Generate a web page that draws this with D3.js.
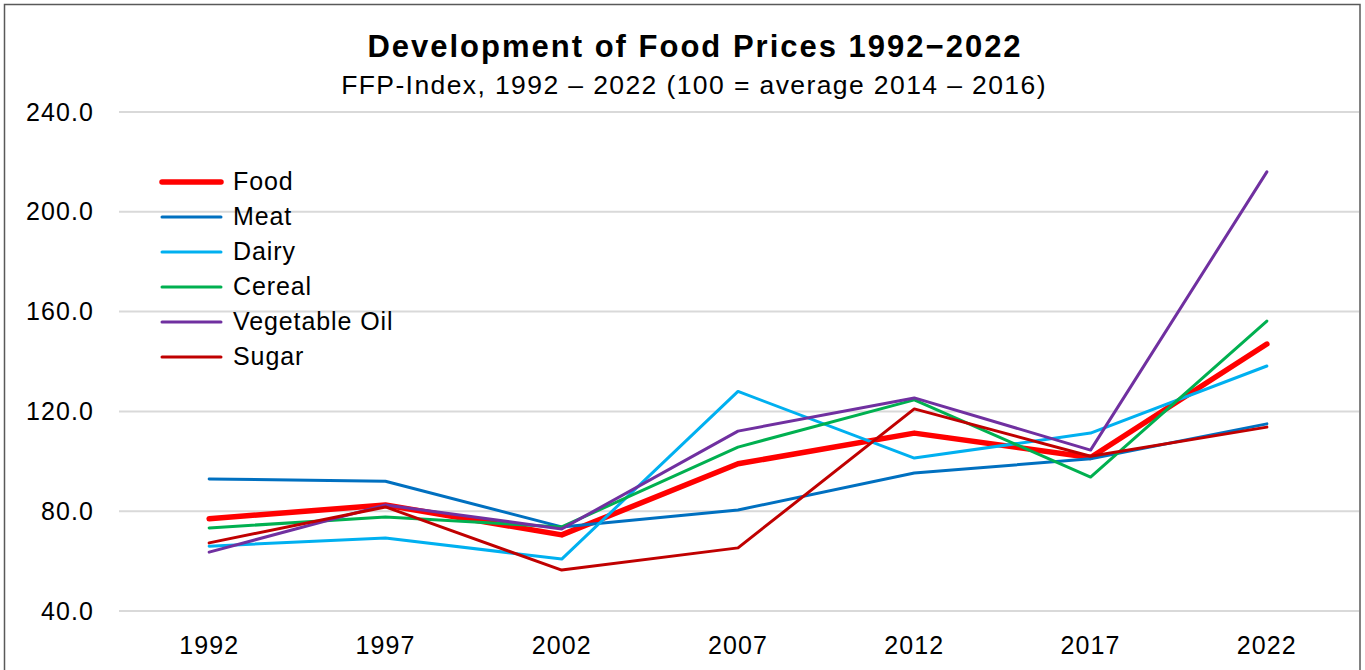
<!DOCTYPE html>
<html>
<head>
<meta charset="UTF-8">
<title>Development of Food Prices 1992-2022</title>
<style>
  html, body { margin: 0; padding: 0; background: #fff; }
  svg { display: block; font-family: "Liberation Sans", Arial, sans-serif; }
</style>
</head>
<body>
<div id="chart"></div>
<script src="https://cdn.jsdelivr.net/npm/d3@7"></script>
<script>
// data
var years = ["1992", "1997", "2002", "2007", "2012", "2017", "2022"];
var yTicks = [40, 80, 120, 160, 200, 240];
var food      = [77.0, 82.5, 70.5, 99.0, 111.3, 101.5, 147.0];
var meat      = [92.9, 92.0, 73.7, 80.5, 95.3, 101.0, 115.0];
var dairy     = [66.0, 69.3, 60.8, 128.0, 101.3, 111.3, 138.2];
var cereal    = [73.3, 77.7, 73.7, 105.7, 124.6, 93.7, 156.2];
var vegOil    = [63.6, 82.5, 72.9, 112.1, 125.4, 104.5, 216.0];
var sugar     = [67.3, 81.7, 56.4, 65.3, 121.0, 102.0, 113.7];
var seriesNames = ["Food", "Meat", "Dairy", "Cereal", "Vegetable Oil", "Sugar"];
var seriesValues = [food, meat, dairy, cereal, vegOil, sugar];

var colors = ["#ff0000", "#0070c0", "#00b0f0", "#00b050", "#7030a0", "#c00000"];
var widths = [5.5, 3, 3, 3, 3, 3];

var width = 1365, height = 670;

var svg = d3.select("#chart").append("svg")
  .attr("width", width)
  .attr("height", height);

// outer frame
svg.append("rect")
  .attr("x", 4.5).attr("y", 4.5)
  .attr("width", 1355.5).attr("height", 680)
  .attr("fill", "none")
  .attr("stroke", "#595959")
  .attr("stroke-width", 1.5);

var x = d3.scaleBand().domain(years).range([121, 1355]);
var y = d3.scaleLinear().domain([40, 240]).range([611, 112]);

// gridlines
svg.append("g")
  .selectAll("line")
  .data(yTicks)
  .enter().append("line")
  .attr("x1", 119).attr("x2", 1359)
  .attr("y1", function(d) { return y(d); })
  .attr("y2", function(d) { return y(d); })
  .attr("stroke", "#d9d9d9")
  .attr("stroke-width", 2);

// y axis
var yAxis = svg.append("g")
  .attr("transform", "translate(94,0)")
  .call(d3.axisLeft(y).tickValues(yTicks).tickSize(0).tickPadding(0)
    .tickFormat(d3.format(".1f")));
yAxis.select(".domain").remove();
yAxis.selectAll("text")
  .style("font-size", "25px")
  .style("letter-spacing", "1.1px")
  .style("font-family", "Liberation Sans, Arial, sans-serif")
  .attr("fill", "#000");

// x axis
var xAxis = svg.append("g")
  .attr("transform", "translate(0,630)")
  .call(d3.axisBottom(x).tickSize(0).tickPadding(0));
xAxis.select(".domain").remove();
xAxis.selectAll("text")
  .attr("dy", null)
  .attr("y", 24)
  .style("font-size", "25px")
  .style("letter-spacing", "1.1px")
  .style("font-family", "Liberation Sans, Arial, sans-serif")
  .attr("fill", "#000");

// lines
var line = d3.line()
  .x(function(d, i) { return x(years[i]) + x.bandwidth() / 2; })
  .y(function(d) { return y(d); });

svg.append("g")
  .selectAll("path")
  .data(seriesValues)
  .enter().append("path")
  .attr("d", function(d) { return line(d); })
  .attr("fill", "none")
  .attr("stroke", function(d, i) { return colors[i]; })
  .attr("stroke-width", function(d, i) { return widths[i]; })
  .attr("stroke-linejoin", "round")
  .attr("stroke-linecap", "round");

// legend
var legend = svg.append("g")
  .selectAll("g")
  .data(seriesNames)
  .enter().append("g")
  .attr("transform", function(d, i) { return "translate(162," + (182 + i * 35) + ")"; });
legend.append("line")
  .attr("x1", 0).attr("x2", 59)
  .attr("stroke", function(d, i) { return colors[i]; })
  .attr("stroke-width", function(d, i) { return widths[i]; })
  .attr("stroke-linecap", "round");
legend.append("text")
  .attr("x", 71)
  .attr("y", 8)
  .style("font-size", "25px")
  .style("letter-spacing", "0.9px")
  .text(function(d) { return d; });

// titles
svg.append("text")
  .attr("x", 695).attr("y", 57)
  .attr("text-anchor", "middle")
  .style("font-size", "31px")
  .style("letter-spacing", "2px")
  .attr("font-weight", "bold")
  .text("Development of Food Prices 1992\u22122022");
svg.append("text")
  .attr("x", 694).attr("y", 94)
  .attr("text-anchor", "middle")
  .style("font-size", "26.5px")
  .style("letter-spacing", "1.4px")
  .text("FFP-Index, 1992 \u2013 2022 (100 = average 2014 \u2013 2016)");
</script>
</body>
</html>
